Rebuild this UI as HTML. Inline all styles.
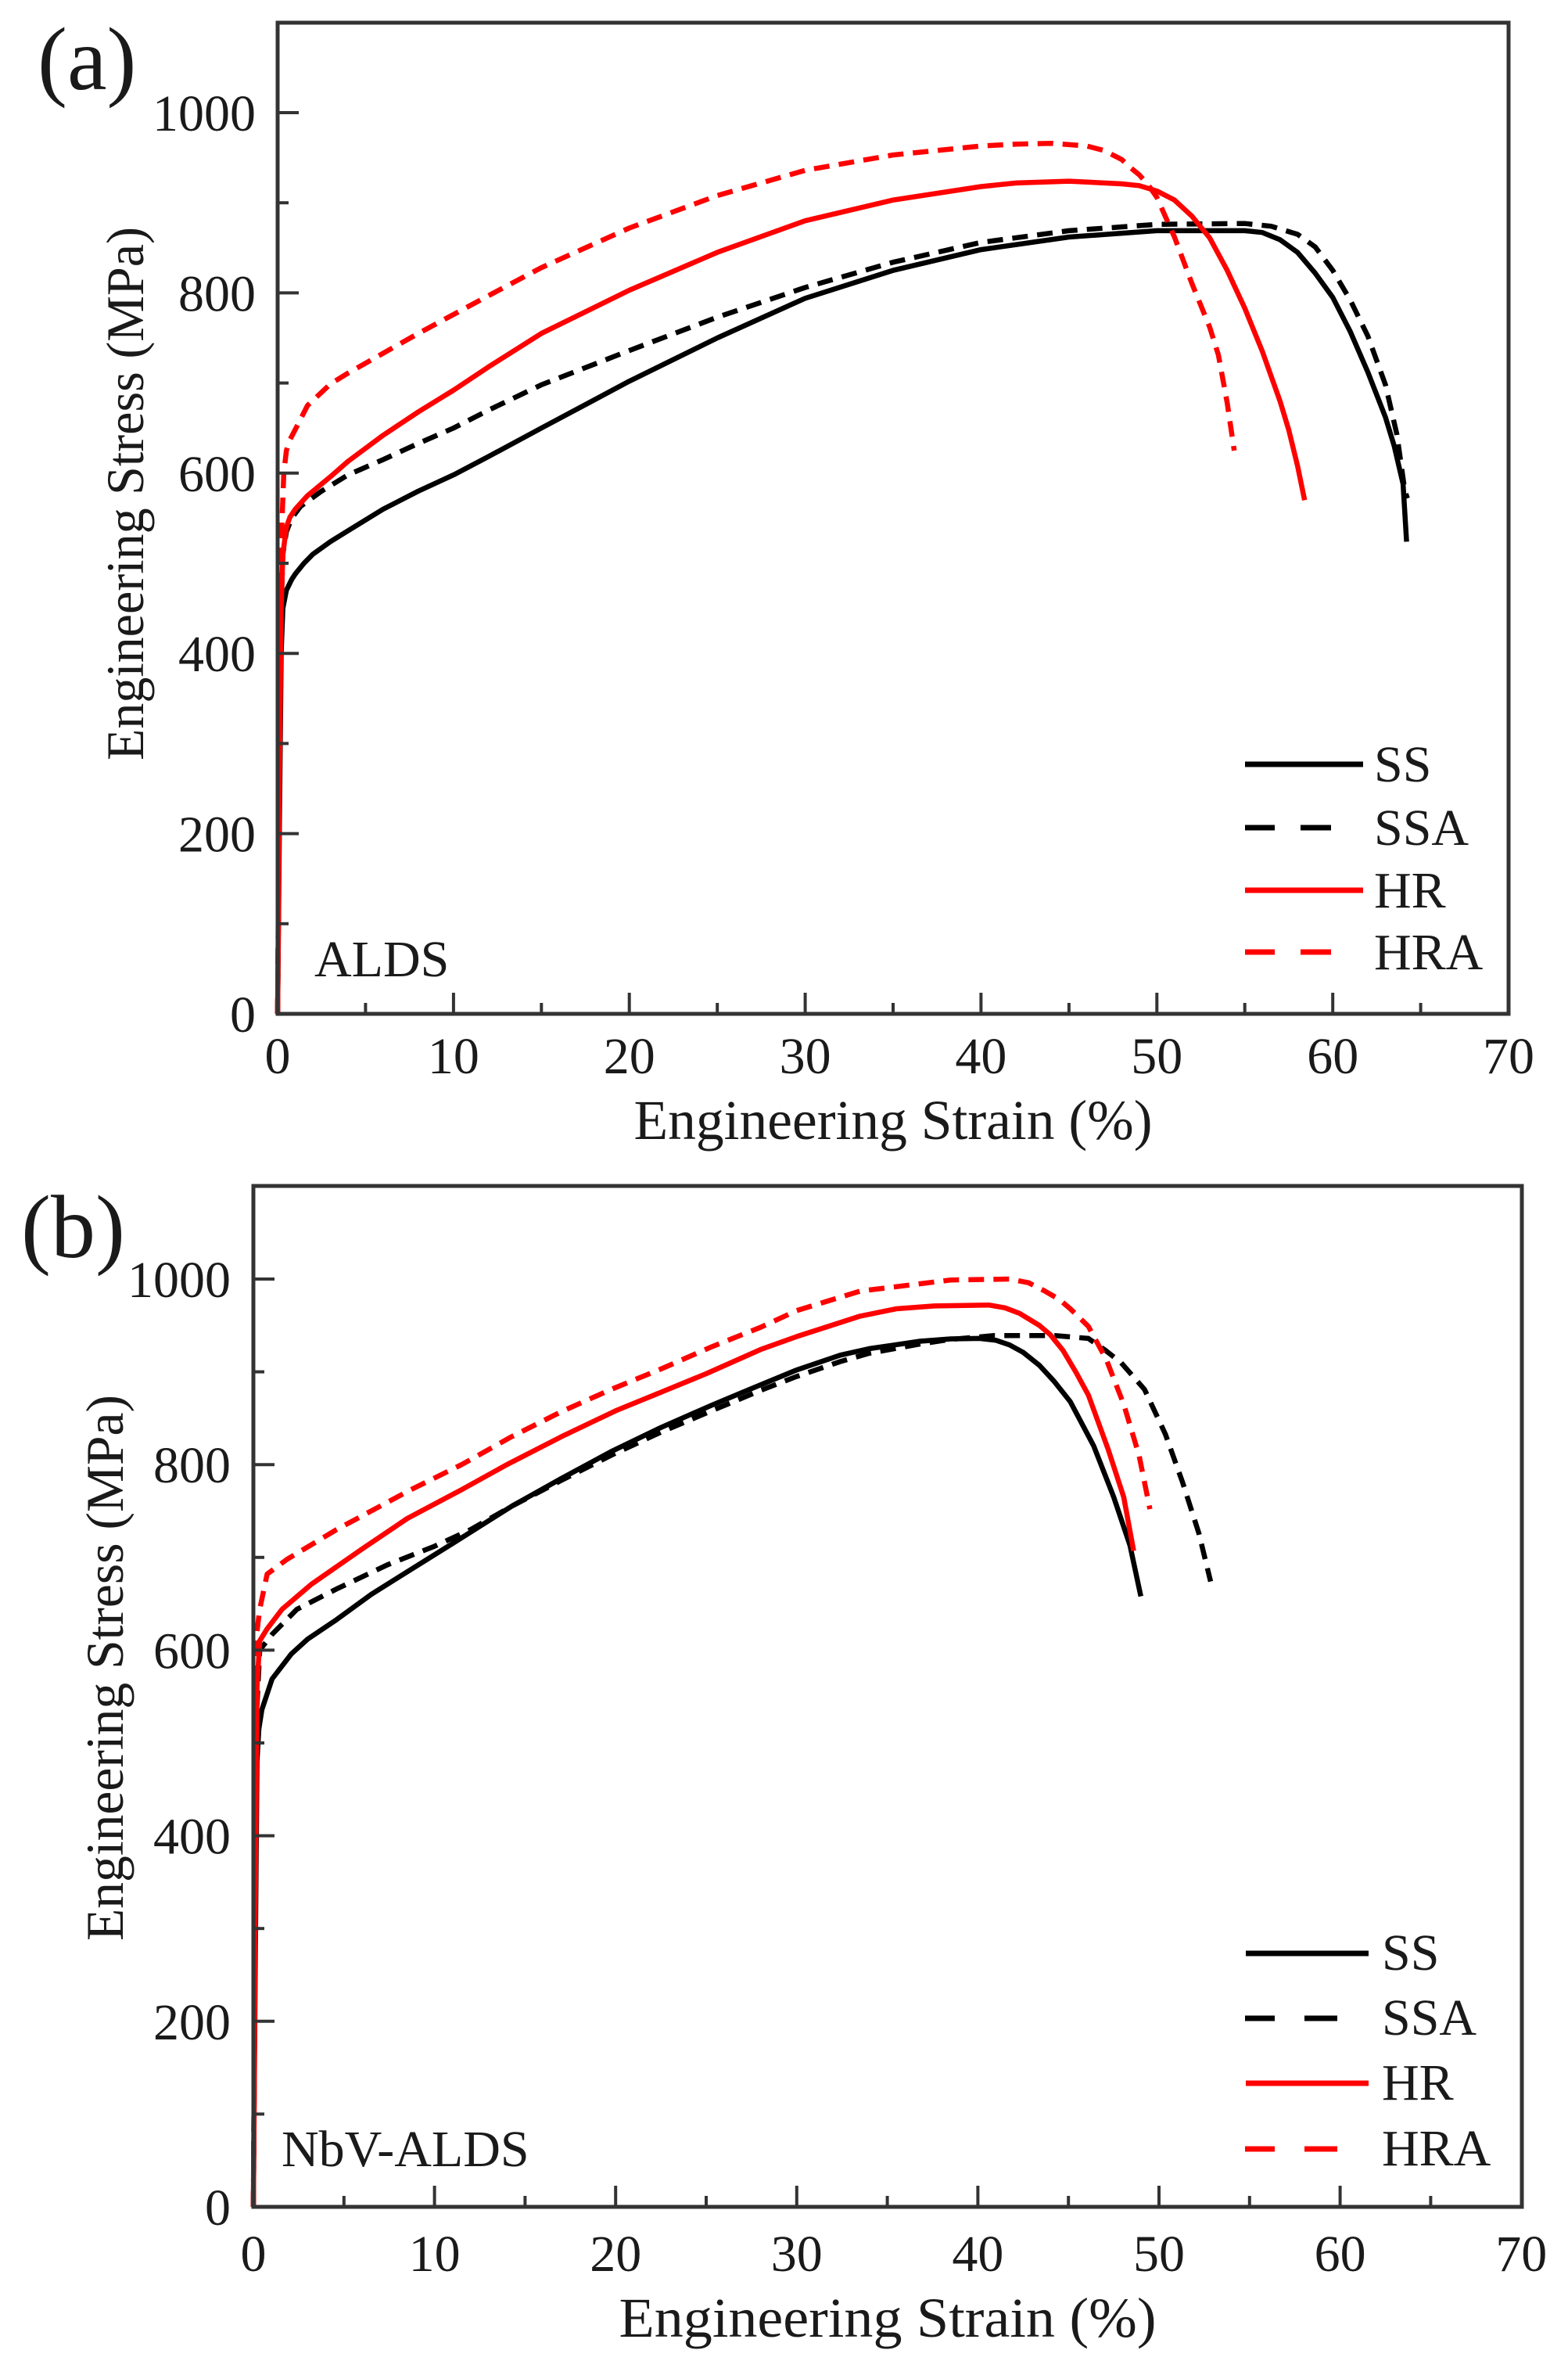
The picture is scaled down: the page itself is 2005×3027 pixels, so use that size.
<!DOCTYPE html>
<html>
<head>
<meta charset="utf-8">
<style>
  html, body { margin: 0; padding: 0; background: #ffffff; }
  svg { display: block; }
  text { font-family: "Liberation Serif", "Times New Roman", serif; fill: #1a1a1a; }
</style>
</head>
<body>
<svg width="2005" height="3027" viewBox="0 0 2005 3027" xmlns="http://www.w3.org/2000/svg">
  <rect x="0" y="0" width="2005" height="3027" fill="#ffffff"/>

  <!-- ================= PANEL (a) ================= -->
  <g fill="none" stroke-linejoin="round" stroke-linecap="butt" stroke-width="6.5">
    <polyline stroke="#000" points="355,1296 357.2,1065.6 359.5,835.2 361.7,777.6 366.2,754.6 373.0,740.7 377.5,733.8 388.7,720 400,708.5 422.5,692.4 444.9,678.5 489.9,650.9 534.9,627.8 579.9,607.1 624.8,583.5 692.3,547.2 804.7,487.3 917.2,432 1029.6,381.3 1142.0,345.6 1254.4,319.1 1366.9,303.0 1479.3,294.9 1591.7,294.9 1614.2,297.2 1636.7,306.4 1659.2,322.6 1681.7,349.1 1704.2,380.2 1726.6,423.9 1749.1,475.8 1771.6,533.4 1782.8,570.2 1794.1,618.6 1798.6,692.4"/>
    <polyline stroke="#000" stroke-dasharray="20 12" points="355,1296 357.2,1008 359.5,777.6 361.7,708.5 366.2,679.7 373.0,662.4 384.2,647.4 411.2,627.8 444.9,607.1 489.9,587.5 534.9,566.8 579.9,547.2 624.8,524.2 692.3,491.9 804.7,448.1 917.2,405.5 1029.6,367.5 1142.0,335.2 1254.4,309.9 1366.9,294.9 1479.3,286.8 1591.7,285.7 1625.5,289.2 1659.2,299.5 1681.7,315.6 1704.2,345.6 1726.6,383.6 1749.1,429.7 1771.6,491.9 1786.2,555.3 1796.4,627.8 1799.7,637.1"/>
    <polyline stroke="#ff0000" points="355,1296 357.2,1008 359.5,777.6 361.7,708.5 366.2,673.9 370.7,661.2 377.5,650.9 393.2,633.6 422.5,609.4 444.9,589.8 489.9,556.4 534.9,526.5 579.9,498.8 624.8,468.9 692.3,426.2 804.7,371.0 917.2,322.6 1029.6,282.2 1142.0,255.7 1254.4,238.5 1299.4,233.9 1366.9,231.6 1434.3,235.0 1456.8,237.3 1479.3,244.2 1501.8,255.7 1524.3,276.5 1546.8,304.1 1569.2,345.6 1591.7,394.0 1614.2,449.3 1636.7,512.6 1647.9,549.5 1659.2,595.6 1668.2,639.4"/>
    <polyline stroke="#ff0000" stroke-dasharray="20 12" points="355,1296 357.2,950.4 359.5,697.0 362.9,604.8 366.2,576 370.7,562.2 379.7,544.9 393.2,518.4 422.5,490.8 444.9,477.0 489.9,451.6 534.9,426.2 579.9,402.0 624.8,377.9 692.3,342.1 804.7,291.5 917.2,250.0 1029.6,217.7 1142.0,198.1 1254.4,186.6 1299.4,184.3 1344.4,183.2 1389.4,186.6 1411.8,192.4 1434.3,203.9 1445.6,214.3 1456.8,223.5 1468.1,236.2 1479.3,252.3 1501.8,303.0 1524.3,362.9 1546.8,418.2 1558.0,453.9 1569.2,514.9 1578.2,576"/>
  </g>

  <!-- frame (a) -->
  <rect x="355" y="29" width="1574" height="1267" fill="none" stroke="#333" stroke-width="5"/>
  <!-- ticks (a) -->
  <g stroke="#333" stroke-width="4">
    <line x1="579.9" y1="1296" x2="579.9" y2="1269"/>
    <line x1="804.7" y1="1296" x2="804.7" y2="1269"/>
    <line x1="1029.6" y1="1296" x2="1029.6" y2="1269"/>
    <line x1="1254.4" y1="1296" x2="1254.4" y2="1269"/>
    <line x1="1479.3" y1="1296" x2="1479.3" y2="1269"/>
    <line x1="1704.2" y1="1296" x2="1704.2" y2="1269"/>
    <line x1="467.4" y1="1296" x2="467.4" y2="1282"/>
    <line x1="692.3" y1="1296" x2="692.3" y2="1282"/>
    <line x1="917.2" y1="1296" x2="917.2" y2="1282"/>
    <line x1="1142.0" y1="1296" x2="1142.0" y2="1282"/>
    <line x1="1366.9" y1="1296" x2="1366.9" y2="1282"/>
    <line x1="1591.7" y1="1296" x2="1591.7" y2="1282"/>
    <line x1="1816.6" y1="1296" x2="1816.6" y2="1282"/>
    <line x1="355" y1="1065.6" x2="382" y2="1065.6"/>
    <line x1="355" y1="835.2" x2="382" y2="835.2"/>
    <line x1="355" y1="604.8" x2="382" y2="604.8"/>
    <line x1="355" y1="374.4" x2="382" y2="374.4"/>
    <line x1="355" y1="144" x2="382" y2="144"/>
    <line x1="355" y1="1180.8" x2="369" y2="1180.8"/>
    <line x1="355" y1="950.4" x2="369" y2="950.4"/>
    <line x1="355" y1="720" x2="369" y2="720"/>
    <line x1="355" y1="489.6" x2="369" y2="489.6"/>
    <line x1="355" y1="259.2" x2="369" y2="259.2"/>
  </g>
  <!-- tick labels (a) -->
  <g font-size="66" text-anchor="end">
    <text x="327" y="1319">0</text>
    <text x="327" y="1088.6">200</text>
    <text x="327" y="858.2">400</text>
    <text x="327" y="627.8">600</text>
    <text x="327" y="397.4">800</text>
    <text x="327" y="167">1000</text>
  </g>
  <g font-size="66" text-anchor="middle">
    <text x="355" y="1372">0</text>
    <text x="579.9" y="1372">10</text>
    <text x="804.7" y="1372">20</text>
    <text x="1029.6" y="1372">30</text>
    <text x="1254.4" y="1372">40</text>
    <text x="1479.3" y="1372">50</text>
    <text x="1704.2" y="1372">60</text>
    <text x="1929" y="1372">70</text>
  </g>
  <!-- titles (a) -->
  <text x="1142" y="1456" font-size="72" text-anchor="middle" textLength="663" lengthAdjust="spacingAndGlyphs">Engineering Strain (%)</text>
  <text transform="translate(183,972) rotate(-90)" x="0" y="0" font-size="68" textLength="682" lengthAdjust="spacingAndGlyphs">Engineering Stress (MPa)</text>
  <text x="48" y="114" font-size="114">(a)</text>
  <text x="402" y="1248" font-size="66">ALDS</text>
  <!-- legend (a) -->
  <g stroke-width="7" fill="none">
    <line x1="1592" y1="977" x2="1743" y2="977" stroke="#000"/>
    <line x1="1592" y1="1058" x2="1630" y2="1058" stroke="#000"/>
    <line x1="1663" y1="1058" x2="1702" y2="1058" stroke="#000"/>
    <line x1="1592" y1="1138" x2="1743" y2="1138" stroke="#ff0000"/>
    <line x1="1592" y1="1217" x2="1630" y2="1217" stroke="#ff0000"/>
    <line x1="1663" y1="1217" x2="1702" y2="1217" stroke="#ff0000"/>
  </g>
  <g font-size="66">
    <text x="1757" y="999">SS</text>
    <text x="1757" y="1080">SSA</text>
    <text x="1757" y="1160">HR</text>
    <text x="1757" y="1239">HRA</text>
  </g>

  <!-- ================= PANEL (b) ================= -->
  <g fill="none" stroke-linejoin="round" stroke-linecap="butt" stroke-width="6.5">
    <polyline stroke="#000" points="324,2821 326.3,2524.5 328.6,2251.7 331.0,2210.2 334.9,2185.3 347.9,2146.2 372.6,2114.1 393.5,2095.2 430.5,2070.3 474.5,2038.2 525.5,2006.2 578.8,1973.0 654.0,1925.6 717.7,1890.0 781.4,1855.6 845.1,1824.8 910.0,1796.3 972.5,1770.2 1018.8,1751.2 1074.4,1732.3 1111.4,1724.0 1176.3,1714.5 1215.7,1711.5 1252.7,1710.9 1273.6,1713.3 1290.9,1719.2 1308.3,1728.7 1329.1,1745.3 1347.7,1765.5 1368.5,1791.6 1398.6,1848.5 1424.1,1913.7 1444.9,1975.4 1458.8,2040.6"/>
    <polyline stroke="#000" stroke-dasharray="20 12" points="324,2821 326.3,2465.2 328.6,2180.6 332.1,2109.4 347.9,2089.2 379.6,2057.2 430.5,2031.1 495.4,2000.3 555.6,1976.6 601.9,1955.2 654.0,1925.6 717.7,1892.4 781.4,1860.3 845.1,1830.7 910.0,1803.4 972.5,1777.3 1018.8,1759.5 1074.4,1740.5 1111.4,1729.9 1176.3,1718.0 1215.7,1712.1 1271.2,1707.3 1348.8,1707.3 1391.7,1710.9 1413.7,1726.3 1433.4,1741.7 1463.5,1776.1 1490.1,1833.1 1512.1,1894.7 1533.0,1960.0 1548.0,2021.6"/>
    <polyline stroke="#ff0000" points="324,2821 326.3,2465.2 328.6,2156.8 332.1,2097.5 341.6,2082.1 360.6,2057.2 398.1,2025.2 463.0,1980.1 520.9,1941.0 590.3,1904.2 648.2,1872.2 717.7,1836.6 787.2,1803.4 845.1,1779.7 903.0,1756.0 972.5,1725.1 1018.8,1708.5 1099.9,1682.4 1146.2,1673.0 1194.8,1669.4 1264.3,1668.2 1285.1,1671.8 1303.7,1678.9 1329.1,1694.3 1343.0,1706.2 1359.3,1726.3 1375.5,1753.6 1391.7,1783.3 1417.2,1853.2 1436.9,1913.7 1449.6,1982.5"/>
    <polyline stroke="#ff0000" stroke-dasharray="20 12" points="324,2821 326.3,2405.9 328.6,2085.7 332.1,2057.2 341.6,2012.1 367.1,1993.2 430.5,1955.2 525.5,1904.2 590.3,1872.2 654.0,1836.6 717.7,1804.6 781.4,1776.1 845.1,1750.0 910.0,1721.6 972.5,1696.7 1018.8,1675.3 1099.9,1650.4 1157.8,1643.3 1215.7,1636.2 1290.9,1635 1315.2,1639.7 1336.1,1650.4 1354.6,1661.1 1368.5,1673.0 1391.7,1695.5 1414.8,1738.2 1436.9,1795.1 1456.5,1860.3 1470.4,1929.1"/>
  </g>

  <!-- frame (b) -->
  <rect x="324" y="1516" width="1622" height="1305" fill="none" stroke="#333" stroke-width="5"/>
  <!-- ticks (b) -->
  <g stroke="#333" stroke-width="4">
    <line x1="555.6" y1="2821" x2="555.6" y2="2794"/>
    <line x1="787.2" y1="2821" x2="787.2" y2="2794"/>
    <line x1="1018.8" y1="2821" x2="1018.8" y2="2794"/>
    <line x1="1250.4" y1="2821" x2="1250.4" y2="2794"/>
    <line x1="1482" y1="2821" x2="1482" y2="2794"/>
    <line x1="1713.6" y1="2821" x2="1713.6" y2="2794"/>
    <line x1="439.8" y1="2821" x2="439.8" y2="2807"/>
    <line x1="671.4" y1="2821" x2="671.4" y2="2807"/>
    <line x1="903" y1="2821" x2="903" y2="2807"/>
    <line x1="1134.6" y1="2821" x2="1134.6" y2="2807"/>
    <line x1="1366.2" y1="2821" x2="1366.2" y2="2807"/>
    <line x1="1597.8" y1="2821" x2="1597.8" y2="2807"/>
    <line x1="1829.4" y1="2821" x2="1829.4" y2="2807"/>
    <line x1="324" y1="2583.8" x2="351" y2="2583.8"/>
    <line x1="324" y1="2346.6" x2="351" y2="2346.6"/>
    <line x1="324" y1="2109.4" x2="351" y2="2109.4"/>
    <line x1="324" y1="1872.2" x2="351" y2="1872.2"/>
    <line x1="324" y1="1635" x2="351" y2="1635"/>
    <line x1="324" y1="2702.4" x2="338" y2="2702.4"/>
    <line x1="324" y1="2465.2" x2="338" y2="2465.2"/>
    <line x1="324" y1="2228" x2="338" y2="2228"/>
    <line x1="324" y1="1990.8" x2="338" y2="1990.8"/>
    <line x1="324" y1="1753.6" x2="338" y2="1753.6"/>
  </g>
  <!-- tick labels (b) -->
  <g font-size="66" text-anchor="end">
    <text x="295" y="2844">0</text>
    <text x="295" y="2606.8">200</text>
    <text x="295" y="2369.6">400</text>
    <text x="295" y="2132.4">600</text>
    <text x="295" y="1895.2">800</text>
    <text x="295" y="1658">1000</text>
  </g>
  <g font-size="66" text-anchor="middle">
    <text x="324" y="2903">0</text>
    <text x="555.6" y="2903">10</text>
    <text x="787.2" y="2903">20</text>
    <text x="1018.8" y="2903">30</text>
    <text x="1250.4" y="2903">40</text>
    <text x="1482" y="2903">50</text>
    <text x="1713.6" y="2903">60</text>
    <text x="1945.2" y="2903">70</text>
  </g>
  <!-- titles (b) -->
  <text x="1135" y="2987" font-size="72" text-anchor="middle" textLength="687" lengthAdjust="spacingAndGlyphs">Engineering Strain (%)</text>
  <text transform="translate(157,2481) rotate(-90)" x="0" y="0" font-size="68" textLength="698" lengthAdjust="spacingAndGlyphs">Engineering Stress (MPa)</text>
  <text x="27" y="1607" font-size="114">(b)</text>
  <text x="360" y="2769" font-size="66">NbV-ALDS</text>
  <!-- legend (b) -->
  <g stroke-width="7" fill="none">
    <line x1="1593" y1="2497" x2="1750" y2="2497" stroke="#000"/>
    <line x1="1592" y1="2580" x2="1630" y2="2580" stroke="#000"/>
    <line x1="1668" y1="2580" x2="1710" y2="2580" stroke="#000"/>
    <line x1="1593" y1="2663" x2="1750" y2="2663" stroke="#ff0000"/>
    <line x1="1592" y1="2747" x2="1630" y2="2747" stroke="#ff0000"/>
    <line x1="1668" y1="2747" x2="1710" y2="2747" stroke="#ff0000"/>
  </g>
  <g font-size="66">
    <text x="1767" y="2518">SS</text>
    <text x="1767" y="2601">SSA</text>
    <text x="1767" y="2684">HR</text>
    <text x="1767" y="2768">HRA</text>
  </g>
</svg>
</body>
</html>
